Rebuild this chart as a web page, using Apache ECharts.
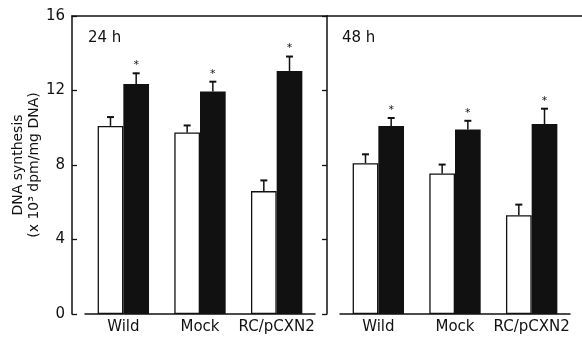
<!DOCTYPE html>
<html lang="en">
<head>
<meta charset="UTF-8">
<title>DNA synthesis</title>
<script src="https://cdn.jsdelivr.net/npm/echarts@6/dist/echarts.min.js"></script>
<style>
  html, body { margin: 0; padding: 0; background: #fff; }
</style>
</head>
<body>
<div id="main" style="width:582px;height:344px;"></div>
<script>
// categories and tick labels
var categories = ['Wild', 'Mock', 'RC/pCXN2'];
var yTicks = [0, 4, 8, 12, 16];
var panels = ['24 h', '48 h'];

// 24 h values (open = control, filled = treated)
var open24 = [10.1, 9.75, 6.6];
var openErr24 = [0.5, 0.4, 0.6];
var filled24 = [12.35, 11.95, 13.05];
var filledErr24 = [0.6, 0.55, 0.8];

// 48 h values
var open48 = [8.1, 7.55, 5.3];
var openErr48 = [0.5, 0.5, 0.6];
var filled48 = [10.1, 9.9, 10.2];
var filledErr48 = [0.45, 0.5, 0.85];

// asterisk marks for the filled bars
var star24 = [1, 1, 1];
var star48 = [1, 1, 1];

var FONT = 'DejaVu Sans';
var INK = '#111';
var GAP = 0.33;

var myChart = echarts.init(document.getElementById('main'));

// error bar + asterisk, side -1 = open bar, +1 = filled bar
function errSeries(name, vals, errs, stars, side, axisIdx) {
    var data = [];
    for (var i = 0; i < vals.length; i++) {
        data.push([i, vals[i], errs[i], stars ? stars[i] : 0]);
    }
    return {
        name: name,
        type: 'custom',
        xAxisIndex: axisIdx,
        yAxisIndex: axisIdx,
        z: 5,
        silent: true,
        data: data,
        renderItem: function (params, api) {
            var idx = api.value(0), v = api.value(1), e = api.value(2);
            var base = api.coord([idx, v]);
            var top = api.coord([idx, v + e]);
            var band = api.size([1, 0])[0];
            var barW = band * (1 - GAP) / 2;
            var x = base[0] + side * barW / 2;
            var kids = [
                {type: 'line', shape: {x1: x, y1: base[1], x2: x, y2: top[1]},
                 style: {stroke: INK, lineWidth: 1.5}},
                {type: 'line', shape: {x1: x - 3.5, y1: top[1] + 0.5, x2: x + 3.5, y2: top[1] + 0.5},
                 style: {stroke: INK, lineWidth: 2}}
            ];
            if (api.value(3)) {
                kids.push({type: 'text', x: x, y: top[1] - 2,
                    style: {text: '*', fill: INK, font: '11px ' + FONT, align: 'center', verticalAlign: 'bottom'}});
            }
            return {type: 'group', children: kids};
        }
    };
}

function barSeries(name, vals, filled, axisIdx) {
    return {
        name: name,
        type: 'bar',
        xAxisIndex: axisIdx,
        yAxisIndex: axisIdx,
        data: vals,
        barGap: '0%',
        barCategoryGap: (GAP * 100) + '%',
        silent: true,
        itemStyle: {
            color: filled ? INK : '#fff',
            borderColor: INK,
            borderWidth: filled ? 0 : 1.3
        }
    };
}

var hiddenY = {type: 'value', min: 0, max: 16, interval: 4, show: false};
var frameX = {type: 'value', position: 'top', min: 0, max: 1,
    axisLine: {show: true, onZero: false, lineStyle: {color: INK, width: 1.5}},
    axisTick: {show: false}, axisLabel: {show: false}, splitLine: {show: false}};
var catX = {type: 'category', position: 'bottom', data: categories,
    axisLine: {show: true, onZero: false, lineStyle: {color: INK, width: 1.5}},
    axisTick: {show: false},
    axisLabel: {color: INK, fontSize: 15, fontFamily: FONT, margin: 6, interval: 0}};

var option = {
    animation: false,
    textStyle: {fontFamily: FONT},
    title: [
        {text: panels[0], left: 83, top: 26, textStyle: {fontSize: 15, fontWeight: 'normal', color: INK, fontFamily: FONT}},
        {text: panels[1], left: 337, top: 26, textStyle: {fontSize: 15, fontWeight: 'normal', color: INK, fontFamily: FONT}}
    ],
    grid: [
        {left: 72, top: 16, width: 255, height: 298},
        {left: 85, top: 16, width: 230, height: 298},
        {left: 327, top: 16, width: 256, height: 298},
        {left: 340, top: 16, width: 230, height: 298}
    ],
    xAxis: [
        echarts.util.merge({gridIndex: 0}, frameX, true),
        echarts.util.merge({gridIndex: 1}, catX, true),
        echarts.util.merge({gridIndex: 2}, frameX, true),
        echarts.util.merge({gridIndex: 3}, catX, true)
    ],
    yAxis: [
        {
            gridIndex: 0, type: 'value', position: 'left',
            min: yTicks[0], max: yTicks[yTicks.length - 1], interval: 4,
            axisLine: {show: true, onZero: false, lineStyle: {color: INK, width: 1.5}},
            axisTick: {show: true, inside: true, length: 5, lineStyle: {color: INK, width: 1.3}},
            axisLabel: {color: INK, fontSize: 15, fontFamily: FONT, margin: 7},
            splitLine: {show: false},
            name: 'DNA synthesis\n(x 10³ dpm/mg DNA)',
            nameLocation: 'middle',
            nameRotate: 90,
            nameGap: 25,
            nameTextStyle: {color: INK, fontSize: 14, fontFamily: FONT, lineHeight: 16}
        },
        echarts.util.merge({gridIndex: 1}, hiddenY, true),
        {
            gridIndex: 2, type: 'value', position: 'left',
            min: 0, max: 16, interval: 4,
            axisLine: {show: true, onZero: false, lineStyle: {color: INK, width: 1.5}},
            axisTick: {show: false}, axisLabel: {show: false}, splitLine: {show: false}
        },
        echarts.util.merge({gridIndex: 3}, hiddenY, true),
        {
            gridIndex: 2, type: 'value', position: 'right',
            min: 0, max: 16, interval: 4,
            axisLine: {show: false},
            axisTick: {show: true, inside: true, length: 5, lineStyle: {color: INK, width: 1.3}},
            axisLabel: {show: false}, splitLine: {show: false}
        }
    ],
    series: [
        barSeries('open 24h', open24, false, 1),
        barSeries('filled 24h', filled24, true, 1),
        errSeries('open 24h err', open24, openErr24, null, -1, 1),
        errSeries('filled 24h err', filled24, filledErr24, star24, 1, 1),
        barSeries('open 48h', open48, false, 3),
        barSeries('filled 48h', filled48, true, 3),
        errSeries('open 48h err', open48, openErr48, null, -1, 3),
        errSeries('filled 48h err', filled48, filledErr48, star48, 1, 3)
    ]
};

myChart.setOption(option);
</script>
</body>
</html>
